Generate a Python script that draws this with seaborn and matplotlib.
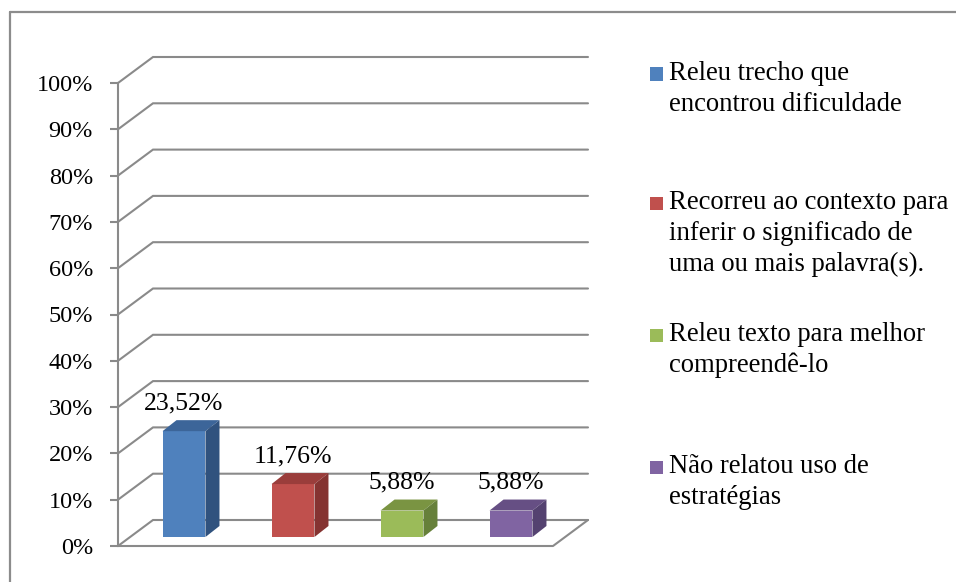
import matplotlib
matplotlib.use("Agg")
import matplotlib.pyplot as plt
import seaborn as sns
import numpy as np
import pandas as pd
from matplotlib.patches import Polygon, Rectangle
from matplotlib.lines import Line2D

# ---------------- data ----------------
categories = [
    "Releu trecho que\nencontrou dificuldade",
    "Recorreu ao contexto para\ninferir o significado de\numa ou mais palavra(s).",
    "Releu texto para melhor\ncompreendê-lo",
    "Não relatou uso de\nestratégias",
]
values = [23.52, 11.76, 5.88, 5.88]
value_labels = ["23,52%", "11,76%", "5,88%", "5,88%"]
y_ticks = [0, 10, 20, 30, 40, 50, 60, 70, 80, 90, 100]
y_tick_labels = [f"{t}%" for t in y_ticks]

front_colors = ["#4F81BD", "#C0504D", "#9BBB59", "#8064A2"]
top_colors = ["#3C6599", "#9A3D3B", "#7A9442", "#664F84"]
side_colors = ["#30527E", "#853331", "#66803A", "#544270"]

# ---------------- setup ----------------
W, H = 956, 582
sns.set_theme(style="white")
plt.rcParams["font.family"] = ["Liberation Serif", "DejaVu Serif"]
FS_TICK = 17.5
FS_VAL = 18.5
FS_LEG = 19.2
GRID = "#8A8A8A"
LW = 1.5

fig = plt.figure(figsize=(W / 100, H / 100), dpi=100)
fig.patch.set_facecolor("white")


def fig_rect(x, y, w, h):
    """pixel box (top-left origin) -> figure fraction rect"""
    return [x / W, 1 - (y + h) / H, w / W, h / H]


to_fig = fig.transFigure.inverted()


def P(ax, x, y, dx=0.0, dy=0.0):
    d = ax.transData.transform((x, y))
    return to_fig.transform((d[0] + dx, d[1] - dy))


# outer frame (only top and left edges visible)
fig.add_artist(Line2D([10 / W, 10 / W], [1 - 12 / H, 0], transform=fig.transFigure,
                      color="#8C8C8C", lw=1.6))
fig.add_artist(Line2D([10 / W, 1], [1 - 12 / H, 1 - 12 / H], transform=fig.transFigure,
                      color="#8C8C8C", lw=1.6))

# ---------------- walls / axis (front plane) ----------------
ax_bg = fig.add_axes(fig_rect(118, 83, 435, 463))
ax_bg.set_xlim(0, 1)
ax_bg.set_ylim(0, 100)
ax_bg.patch.set_alpha(0)
for s in ["top", "right", "bottom"]:
    ax_bg.spines[s].set_visible(False)
ax_bg.spines["left"].set_color(GRID)
ax_bg.spines["left"].set_linewidth(LW)
ax_bg.set_xticks([])
ax_bg.set_yticks(y_ticks)
ax_bg.set_yticklabels(y_tick_labels, fontsize=FS_TICK, color="black")
ax_bg.tick_params(axis="y", left=True, length=6, width=LW, color=GRID, pad=12)

BDX, BDY = 35, -26  # back wall offset in pixels
for t in y_ticks:
    a = P(ax_bg, 0, t)
    b = P(ax_bg, 0, t, BDX, BDY)
    c = P(ax_bg, 1, t, BDX, BDY)
    ax_bg.plot([a[0], b[0], c[0]], [a[1], b[1], c[1]], transform=fig.transFigure,
               color=GRID, lw=LW, clip_on=False, solid_joinstyle="miter")
# floor front & right edges
f0 = P(ax_bg, 0, 0)
f1 = P(ax_bg, 1, 0)
f2 = P(ax_bg, 1, 0, BDX, BDY)
ax_bg.plot([f0[0], f1[0], f2[0]], [f0[1], f1[1], f2[1]], transform=fig.transFigure,
           color=GRID, lw=LW, clip_on=False)

# ---------------- bars (mid-depth plane) ----------------
ax = fig.add_axes(fig_rect(127, 87, 435, 450))
df = pd.DataFrame({"cat": categories, "val": values})
sns.barplot(data=df, x="cat", y="val", hue="cat", palette=front_colors,
            saturation=1, width=0.394, ax=ax, legend=False, linewidth=0, zorder=3)
ax.set_ylim(0, 100)
ax.set_xlim(-0.523, 3.468)
ax.axis("off")
ax.patch.set_alpha(0)

DDX, DDY = 14, -11  # bar depth in pixels
for i, patch in enumerate(ax.patches[:len(values)]):
    x0 = patch.get_x()
    x1 = x0 + patch.get_width()
    h = patch.get_height()
    tl = P(ax, x0, h)
    tr = P(ax, x1, h)
    tr_b = P(ax, x1, h, DDX, DDY)
    tl_b = P(ax, x0, h, DDX, DDY)
    br = P(ax, x1, 0)
    br_b = P(ax, x1, 0, DDX, DDY)
    fig.add_artist(Polygon([tl, tr, tr_b, tl_b], closed=True, transform=fig.transFigure,
                           facecolor=top_colors[i], edgecolor="none", zorder=4))
    fig.add_artist(Polygon([tr, br, br_b, tr_b], closed=True, transform=fig.transFigure,
                           facecolor=side_colors[i], edgecolor="none", zorder=4))
    ax.annotate(value_labels[i], (x0 + patch.get_width() / 2, h), xytext=(0, 20),
                textcoords="offset points", ha="center", va="center",
                fontsize=FS_VAL, color="black")

# ---------------- legend ----------------
leg_centers = [74, 203, 335, 467]
for i, lab in enumerate(categories):
    yc = leg_centers[i]
    fig.add_artist(Rectangle((650 / W, 1 - (yc + 6.5) / H), 13 / W, 13 / H,
                             transform=fig.transFigure, facecolor=front_colors[i],
                             edgecolor="none"))
    fig.text(669 / W, 1 - (yc - 13) / H, lab, ha="left", va="top", fontsize=FS_LEG,
             color="black", linespacing=1.3)

fig.savefig("out.png", dpi=100, facecolor="white")
